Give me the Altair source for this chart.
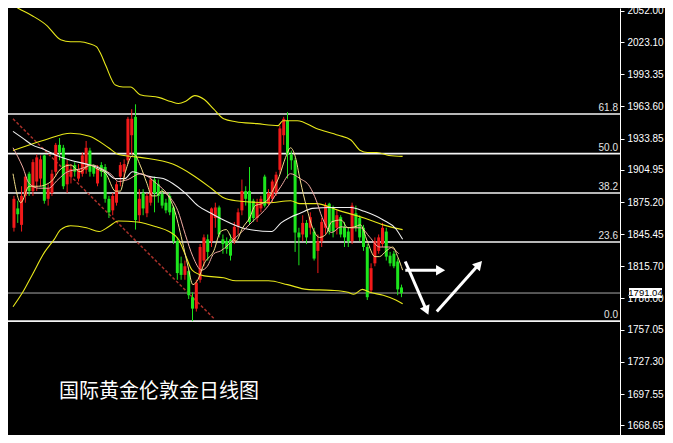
import altair as alt
import pandas as pd

# ---------------- data ----------------
opens = [1851.4, 1869.3, 1854.1, 1880.9, 1901.4, 1885.3, 1894.2, 1896.9, 1918.3, 1878.2,
         1883.5, 1903.2, 1928.1, 1925.4, 1891.6, 1898.7, 1909.4, 1896.9, 1901.4, 1905.0,
         1922.8, 1907.6, 1892.4, 1909.4, 1907.6, 1878.2, 1867.5, 1874.6, 1898.7, 1903.2,
         1913.8, 1937.0, 1954.0, 1863.0, 1883.5, 1864.8, 1874.6, 1896.0, 1891.6, 1882.6,
         1874.6, 1880.9, 1870.2, 1839.0, 1818.5, 1807.8, 1811.3, 1787.2, 1776.6, 1803.3,
         1821.1, 1840.7, 1839.0, 1860.4, 1870.2, 1840.7, 1839.0, 1840.7, 1839.0, 1852.3,
         1867.5, 1885.3, 1885.3, 1876.4, 1860.4, 1869.3, 1898.7, 1873.7, 1878.2, 1883.5,
         1905.0, 1937.0, 1950.4, 1919.2, 1913.8, 1847.0, 1845.2, 1855.9, 1851.4, 1847.9,
         1830.0, 1839.0, 1851.4, 1873.7, 1870.2, 1851.4, 1861.2, 1852.3, 1847.9, 1839.0,
         1864.8, 1860.4, 1851.4, 1833.6, 1793.5, 1818.5, 1830.0, 1836.3, 1847.9, 1825.6,
         1827.4, 1820.2, 1796.2]
highs = [1880.9, 1876.4, 1889.8, 1901.4, 1903.2, 1914.7, 1919.2, 1918.3, 1919.2, 1891.6,
         1905.0, 1929.9, 1934.4, 1928.1, 1914.7, 1910.3, 1912.1, 1910.3, 1921.0, 1931.7,
         1925.4, 1910.3, 1909.4, 1912.1, 1910.3, 1880.9, 1883.5, 1894.2, 1912.1, 1914.7,
         1954.0, 1961.1, 1965.6, 1887.1, 1887.1, 1883.5, 1898.7, 1898.7, 1896.0, 1887.1,
         1878.2, 1883.5, 1871.9, 1842.5, 1824.7, 1821.1, 1812.2, 1791.7, 1803.3, 1836.3,
         1845.2, 1845.2, 1870.2, 1874.6, 1871.9, 1845.2, 1842.5, 1845.2, 1856.8, 1869.3,
         1896.0, 1889.8, 1907.6, 1878.2, 1878.2, 1880.9, 1900.5, 1887.1, 1896.0, 1903.2,
         1945.9, 1954.0, 1958.4, 1922.8, 1916.5, 1851.4, 1863.0, 1858.6, 1865.7, 1851.4,
         1845.2, 1860.4, 1874.6, 1874.6, 1871.9, 1867.5, 1863.0, 1856.8, 1851.4, 1874.6,
         1871.9, 1863.0, 1854.1, 1836.3, 1818.5, 1842.5, 1845.2, 1855.9, 1851.4, 1829.1,
         1830.0, 1822.9, 1798.8]
lows = [1847.9, 1855.9, 1847.9, 1874.6, 1880.9, 1880.9, 1885.3, 1889.8, 1873.7, 1871.9,
        1880.9, 1898.7, 1913.8, 1887.1, 1883.5, 1892.4, 1898.7, 1894.2, 1898.7, 1901.4,
        1898.7, 1898.7, 1889.8, 1898.7, 1874.6, 1860.4, 1863.0, 1871.9, 1889.8, 1896.0,
        1910.3, 1919.2, 1849.7, 1856.8, 1863.0, 1861.2, 1871.9, 1865.7, 1874.6, 1869.3,
        1864.8, 1863.0, 1836.3, 1803.3, 1803.3, 1803.3, 1785.5, 1765.0, 1773.9, 1800.6,
        1815.8, 1821.1, 1833.6, 1851.4, 1842.5, 1827.4, 1827.4, 1821.1, 1836.3, 1845.2,
        1863.0, 1871.9, 1854.1, 1856.8, 1856.8, 1865.7, 1870.2, 1871.9, 1874.6, 1880.9,
        1901.4, 1928.1, 1896.9, 1905.0, 1829.1, 1816.7, 1839.0, 1836.3, 1845.2, 1821.1,
        1809.5, 1833.6, 1845.2, 1845.2, 1842.5, 1845.2, 1842.5, 1833.6, 1833.6, 1836.3,
        1847.9, 1839.0, 1830.0, 1784.6, 1791.7, 1815.8, 1827.4, 1833.6, 1821.1, 1815.8,
        1814.0, 1789.0, 1787.2]
closes = [1878.2, 1863.9, 1880.9, 1898.7, 1885.3, 1912.1, 1916.5, 1914.7, 1876.4, 1888.0,
          1901.4, 1928.1, 1921.0, 1889.8, 1910.3, 1905.8, 1903.2, 1905.8, 1918.3, 1925.4,
          1903.2, 1901.4, 1905.8, 1903.2, 1878.2, 1865.7, 1880.9, 1891.6, 1909.4, 1910.3,
          1952.2, 1952.2, 1858.6, 1878.2, 1869.3, 1880.9, 1896.0, 1883.5, 1880.9, 1871.9,
          1867.5, 1865.7, 1839.0, 1809.5, 1807.8, 1815.8, 1789.0, 1776.6, 1800.6, 1833.6,
          1842.5, 1829.1, 1869.3, 1870.2, 1845.2, 1836.3, 1831.8, 1825.6, 1852.3, 1865.7,
          1885.3, 1878.2, 1856.8, 1860.4, 1874.6, 1878.2, 1871.9, 1883.5, 1894.2, 1900.5,
          1943.3, 1952.2, 1919.2, 1913.8, 1847.0, 1842.5, 1855.9, 1842.5, 1861.2, 1822.9,
          1839.0, 1856.8, 1871.9, 1847.9, 1847.9, 1863.0, 1845.2, 1842.5, 1839.0, 1871.9,
          1851.4, 1842.5, 1833.6, 1787.2, 1814.0, 1839.0, 1842.5, 1851.4, 1824.7, 1818.5,
          1815.8, 1794.4, 1791.0]

# upper band (yellow)
upper_idx = [-0.25, 1.0, 4.8, 8.6, 12.3, 14.9, 17.4, 19.9, 21.7, 22.9, 24.2, 26.7, 28.7, 30.7,
             33.2, 38.3, 41.3, 43.3, 45.1, 47.6, 50.1, 52.6, 55.2, 58.4, 64.0, 69.5, 70.8, 74.6,
             79.6, 85.4, 88.7, 91.2, 93.0, 95.5, 98.7, 102.3]
upper_px = [2057.4, 2054.7, 2047.6, 2038.7, 2025.3, 2023.5, 2023.5, 2021.7, 2019.0, 2011.9,
            2001.2, 1983.4, 1981.6, 1981.6, 1974.5, 1971.8, 1968.2, 1966.4, 1968.2, 1973.6,
            1970.0, 1961.1, 1952.2, 1949.5, 1947.7, 1945.9, 1950.4, 1950.4, 1943.3, 1937.0,
            1932.6, 1922.8, 1921.0, 1921.0, 1918.3, 1917.4]
# slow average (yellow)
slow_idx = [-0.25, 8.1, 14.9, 19.9, 24.9, 27.5, 33.2, 41.8, 46.9, 51.9, 55.2, 58.4, 67.0, 72.8,
            75.3, 79.6, 85.4, 92.2, 97.2, 102.3]
slow_px = [1922.8, 1932.6, 1938.8, 1936.1, 1925.4, 1919.2, 1916.5, 1910.3, 1900.5, 1888.0,
           1879.1, 1876.4, 1874.6, 1876.4, 1873.7, 1873.7, 1867.5, 1860.4, 1854.1, 1849.7]
# middle (white)
mid_idx = [-0.25, 2.3, 4.8, 8.1, 10.6, 14.9, 19.1, 21.7, 24.2, 26.7, 29.2, 31.2, 33.2, 35.8,
           39.3, 41.8, 45.1, 48.4, 51.9, 55.2, 61.0, 67.8, 70.3, 72.8, 75.3, 78.6, 83.6, 88.7,
           92.2, 97.2, 100.5, 102.3]
mid_px = [1940.6, 1934.3, 1928.1, 1923.6, 1919.2, 1913.8, 1910.3, 1907.6, 1903.2, 1896.9,
          1896.9, 1903.2, 1901.4, 1898.7, 1896.9, 1892.4, 1883.5, 1871.9, 1864.8, 1858.6,
          1850.5, 1847.9, 1855.9, 1861.2, 1864.8, 1869.3, 1870.2, 1870.2, 1866.6, 1858.6,
          1850.5, 1840.7]
# lower band (yellow)
lower_idx = [-0.25, 2.3, 4.8, 8.1, 10.6, 12.3, 14.9, 19.1, 22.4, 24.9, 27.5, 32.5, 37.5, 40.8,
             43.3, 45.1, 46.9, 50.1, 55.2, 58.4, 67.0, 72.0, 77.1, 83.6, 87.9, 89.4, 91.7, 93.7,
             97.2, 100.5, 102.3]
lower_px = [1778.3, 1791.7, 1807.8, 1829.1, 1840.7, 1849.7, 1853.2, 1851.4, 1847.9, 1852.3,
            1857.7, 1856.8, 1852.3, 1847.9, 1840.7, 1826.5, 1812.2, 1806.9, 1805.1, 1802.4,
            1802.4, 1798.8, 1794.4, 1793.5, 1791.7, 1789.9, 1794.4, 1791.7, 1789.0, 1784.6,
            1781.0]
# fast average (pale yellow)
fast_idx = [-0.25, 1.8, 4.0, 6.5, 9.8, 12.3, 14.9, 17.4, 19.9, 21.9, 24.2, 26.7, 28.0, 29.2,
            30.7, 31.7, 33.2, 35.0, 36.3, 37.5, 38.8, 40.6, 42.1, 44.3, 45.8, 47.1, 48.4, 50.1,
            52.6, 54.4, 55.9, 57.2, 58.4, 60.2, 62.0, 63.5, 65.2, 67.0, 68.3, 69.8, 71.5, 72.8,
            74.1, 75.3, 77.1, 78.6, 80.4, 82.1, 83.6, 86.1, 87.9, 89.7, 91.2, 93.0, 95.0, 96.2,
            98.0, 99.7, 101.0, 102.3]
fast_px = [1901.4, 1874.6, 1889.8, 1889.8, 1894.2, 1905.8, 1909.4, 1903.2, 1909.4, 1905.8,
           1901.4, 1885.3, 1885.3, 1901.4, 1916.5, 1919.2, 1909.4, 1892.4, 1880.9, 1880.9,
           1885.3, 1880.9, 1869.3, 1839.0, 1815.8, 1798.8, 1803.3, 1818.5, 1830.0, 1847.9,
           1849.7, 1842.5, 1839.0, 1851.4, 1860.4, 1871.9, 1873.7, 1878.2, 1887.1, 1898.7,
           1916.5, 1925.4, 1916.5, 1896.0, 1869.3, 1851.4, 1842.5, 1845.2, 1856.8, 1858.6,
           1851.4, 1852.3, 1854.1, 1839.0, 1824.7, 1824.7, 1830.0, 1833.6, 1824.7, 1812.2]
# medium average (pink)
pink_idx = [-0.25, 2.3, 4.0, 6.5, 9.1, 11.6, 14.1, 17.4, 20.7, 23.2, 25.7, 27.5, 30.0, 33.2,
            37.5, 40.8, 43.1, 45.1, 47.1, 49.4, 50.9, 52.6, 54.4, 58.4, 62.7, 67.0, 70.3, 72.8,
            75.3, 77.8, 79.6, 81.1, 83.6, 86.1, 88.7, 91.2, 93.7, 96.2, 98.7, 101.3]
pink_px = [1925.4, 1907.6, 1892.4, 1888.0, 1888.0, 1896.0, 1903.2, 1905.8, 1909.4, 1905.8,
           1900.5, 1894.2, 1896.0, 1901.4, 1892.4, 1880.9, 1867.5, 1845.2, 1824.7, 1812.2,
           1815.8, 1827.4, 1830.0, 1842.5, 1856.8, 1871.9, 1889.8, 1901.4, 1896.9, 1889.8,
           1876.4, 1861.2, 1847.0, 1852.3, 1851.4, 1851.4, 1842.5, 1833.6, 1833.6, 1827.4]
# dashed down-trend line
trend_idx = [-0.25, 52.6]
trend_px = [1952.2, 1767.6]

# Fibonacci levels
fib_labels = ["0.0", "23.6", "38.2", "50.0", "61.8"]
fib_prices = [1765.0, 1838.2, 1883.5, 1920.0, 1956.6]
last_price = 1791.04
last_label = "1791.04"

y_ticks = [2052.00, 2023.10, 1993.35, 1963.60, 1933.85, 1904.95, 1875.20, 1845.45,
           1815.70, 1786.00, 1757.05, 1727.30, 1697.55, 1668.65]

# arrows (start / end of shaft, head angle)
arrow_x1 = [103.0, 103.0, 111.3]
arrow_y1 = [1812.2, 1820.2, 1773.9]
arrow_x2 = [112.3, 108.6, 122.4]
arrow_y2 = [1812.2, 1774.8, 1817.6]
arrow_ang = [90, 156, 42]

title_text = "国际黄金伦敦金日线图"

# ---------------- chart ----------------
W, H = 612, 427
RED, GREEN = "#f21a1a", "#1de61d"

x_scale = alt.Scale(domain=[-0.25, 158.2], nice=False, zero=False)
y_scale = alt.Scale(domain=[1659.7, 2054.7], nice=False, zero=False)
y_axis = alt.Axis(orient="right", values=y_ticks, format=".2f", title=None, grid=False,
                  domainColor="white", domainWidth=1, tickColor="white", tickSize=4,
                  labelColor="white", labelFont="Liberation Sans", labelFontSize=10,
                  labelPadding=3, labelFlush=False, labelOverlap=False)


def X(f):
    return alt.X(f"{f}:Q", scale=x_scale, axis=None)


def Y(f):
    return alt.Y(f"{f}:Q", scale=y_scale, axis=y_axis)


cdf = pd.DataFrame({"idx": list(range(len(opens))), "open": opens, "high": highs,
                    "low": lows, "close": closes})
cdf["dir"] = ["up" if c >= o else "down" for o, c in zip(opens, closes)]
col = alt.Color("dir:N", scale=alt.Scale(domain=["up", "down"], range=[RED, GREEN]), legend=None)

fib_df = pd.DataFrame({"p": fib_prices, "lab": fib_labels})
fib_rules = alt.Chart(fib_df).mark_rule(color="#f4f4f4", strokeWidth=1.6).encode(y=Y("p"))
fib_text = alt.Chart(fib_df).mark_text(align="right", baseline="bottom", dy=-1, color="#e4e4e4",
                                        font="Liberation Sans", fontSize=10).encode(
    x=alt.value(W - 2), y=Y("p"), text="lab:N")

last_df = pd.DataFrame({"p": [last_price], "lab": [last_label],
                        "top": [last_price + 4.6], "bot": [last_price - 4.6]})
last_rule = alt.Chart(last_df).mark_rule(color="#a8a8a8", strokeWidth=1).encode(y=Y("p"))
last_box = alt.Chart(last_df).mark_rect(color="white", clip=False).encode(
    x=alt.value(W + 9), x2=alt.value(W + 42), y=Y("top"), y2="bot")
last_text = alt.Chart(last_df).mark_text(color="black", font="Liberation Sans", fontSize=9.5,
                                         align="center", baseline="middle", clip=False).encode(
    x=alt.value(W + 25.5), y=Y("p"), text="lab:N")

wick = alt.Chart(cdf).mark_rule(strokeWidth=1).encode(x=X("idx"), y=Y("low"), y2="high", color=col)
body = alt.Chart(cdf).mark_bar(size=3).encode(x=X("idx"), y=Y("open"), y2="close", color=col)


def line(ix, px, color, width=1.0, dash=None):
    df = pd.DataFrame({"idx": ix, "p": px})
    kw = dict(color=color, strokeWidth=width, clip=True, interpolate="monotone")
    if dash:
        kw["strokeDash"] = dash
        kw["interpolate"] = "linear"
    return alt.Chart(df).mark_line(**kw).encode(x=X("idx"), y=Y("p"), order="idx:Q")


trend = line(trend_idx, trend_px, "#a8302a", 1.5, [3, 2])
upper = line(upper_idx, upper_px, "#e8e81a", 1.1)
slow = line(slow_idx, slow_px, "#e8e81a", 1.1)
mid = line(mid_idx, mid_px, "#f0f0f0", 1.1)
lower = line(lower_idx, lower_px, "#e8e81a", 1.1)
fast = line(fast_idx, fast_px, "#f2de8a", 1.0)
pink = line(pink_idx, pink_px, "#f2aca4", 1.0)

arr_df = pd.DataFrame({"x1": arrow_x1, "y1": arrow_y1, "x2": arrow_x2, "y2": arrow_y2,
                       "ang": arrow_ang})
shafts = alt.Chart(arr_df).mark_rule(color="white", strokeWidth=3).encode(
    x=X("x1"), y=Y("y1"), x2="x2", y2="y2")
heads = alt.Chart(arr_df).mark_point(shape="triangle-up", filled=True, color="white",
                                     size=110, opacity=1).encode(
    x=X("x2"), y=Y("y2"), angle=alt.Angle("ang:Q", scale=None))

title_df = pd.DataFrame({"t": [title_text]})
title = alt.Chart(title_df).mark_text(color="white", font="Noto Sans CJK SC", fontSize=20,
                                      align="left", baseline="middle").encode(
    x=alt.value(51), y=alt.value(384), text="t:N")

chart = alt.layer(
    fib_rules, last_rule, trend, wick, body, upper, slow, mid, lower, pink, fast,
    fib_text, shafts, heads, title, last_box, last_text
).properties(
    width=W, height=H, background="#000000",
    padding={"left": 0, "top": 0, "right": 45, "bottom": 0},
    autosize=alt.AutoSizeParams(type="none"),
).configure_view(strokeWidth=0)

chart.save("out.html", embed_options={"renderer": "svg", "actions": False})
